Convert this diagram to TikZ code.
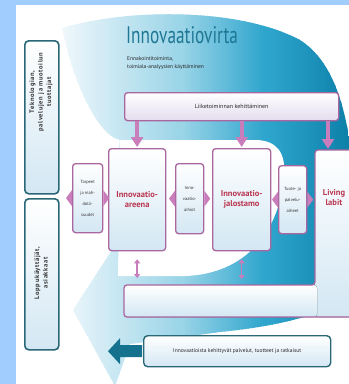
\documentclass[tikz,border=0pt]{standalone}
\usepackage{fontspec}
\setmainfont{PT Sans}
\usetikzlibrary{arrows.meta}
\definecolor{pagebg}{HTML}{A0CDFE}
\definecolor{flowA}{HTML}{EEF7FB}
\definecolor{flowB}{HTML}{9CD5E8}
\definecolor{flowC}{HTML}{2EA5CD}
\definecolor{flowD}{HTML}{0B7EA6}
\definecolor{mauve}{HTML}{A9669F}
\definecolor{pinkarrow}{HTML}{C97DBA}
\definecolor{boxblue}{HTML}{D3E7F3}
\definecolor{lilac}{HTML}{E3DCEE}
\definecolor{tealline}{HTML}{2A6878}
\definecolor{titleteal}{HTML}{1E7794}
\definecolor{crimson}{HTML}{B9354F}
\definecolor{darkarrow}{HTML}{15728F}
\tikzset{
  stage/.style={draw=mauve, line width=1.3pt, rounded corners=3pt, top color=white, bottom color=boxblue,
                inner sep=0pt, anchor=north west, align=center, text=crimson,
                font=\fontsize{8.5}{10}\selectfont\bfseries},
  smallbox/.style={stage, text=black!80, font=\fontsize{4.5}{11}\selectfont},
  sidebox/.style={draw=tealline, line width=1.6pt, rounded corners=4pt, top color=white, bottom color=boxblue,
                  inner sep=0pt, anchor=north west},
  sidetext/.style={rotate=90, align=center, text=black!80,
                   font=\fontsize{6.5}{8.5}\selectfont\bfseries\addfontfeature{LetterSpace=10}},
  smalltext/.style={align=left, text=black!85, inner sep=0pt, font=\fontsize{5.5}{8}\selectfont},
  downarrow/.style={pinkarrow, line width=4pt, -{Triangle[width=12pt,length=10pt]}, shorten >=1pt},
  swaparrow/.style={pinkarrow, line width=1.6pt, {Triangle[width=6pt,length=4pt]}-{Triangle[width=6pt,length=4pt]}}
}
% pink tips on both sides of a small box
\newcommand{\sidetips}[1]{%
  \fill[pinkarrow] ([yshift=-8pt]#1.west) -- ++(-6,-8) -- ++(6,-8) -- cycle;
  \fill[pinkarrow] ([yshift=-8pt]#1.east) -- ++( 6,-8) -- ++(-6,-8) -- cycle;}

\begin{document}
\begin{tikzpicture}[x=1pt, y=-1pt]
        \def\Pw{349 } % Picture width
        \def\Ph{384 } % Picture height
        \def\Px{16  } % Panel left edge
        \def\Py{5   } % Panel top edge

        % Page and white panel
        \useasboundingbox (0,0) rectangle (\Pw,\Ph);
        \fill[pagebg] (0,0)     rectangle (\Pw,\Ph);
        \fill[white]  (\Px,\Py) rectangle (\Pw,\Ph);

        \begin{scope}
        \clip (\Px,\Py) rectangle (\Pw,\Ph);

        % Flow band, outer edge, coloured in strips
        \begin{scope}
        \clip (62,28)   .. controls (130,8)   and (240,8)   .. (300,40)
                        .. controls (328,58)  and (345,95)  .. (352,160)
              -- (352,292) .. controls (330,314) and (280,326) .. (220,332)
              -- (130,344) -- (115,386) -- (73,310) -- (112,250) -- (120,140)
                        .. controls (100,136) and (75,90)   .. (62,28) -- cycle;
        \foreach \k in {0,...,38} {\pgfmathtruncatemacro{\pc}{100*\k/38}
          \fill[flowB!\pc!flowA] (62+3*\k,0)  rectangle ++(3.6,390);}
        \foreach \k in {0,...,28} {\pgfmathtruncatemacro{\pc}{100*\k/28}
          \fill[flowC!\pc!flowB] (179+3*\k,0) rectangle ++(3.6,390);}
        \foreach \k in {0,...,29} {\pgfmathtruncatemacro{\pc}{100*\k/29}
          \fill[flowD!\pc!flowC] (266+3*\k,0) rectangle ++(3.6,390);}
        \end{scope}
        % Flow band, hole under the stages
        \fill[white]
              (120,140) -- (118,276) -- (185,276)
                        .. controls (245,274) and (280,232) .. (284,175)
                        .. controls (286,152) and (276,140) .. (255,140) -- cycle;

        % Side boxes
        \node[sidebox, minimum width=34pt, minimum height=153pt] (makers) at (24,40)  {};
        \node[sidebox, minimum width=34pt, minimum height=151pt] (users)  at (24,198) {};
        \node[sidetext] (makerstext) at (41,92)  {Teknologian,\\palvelujen ja muotoilun\\tuottajat};
        \node[sidetext] (userstext)  at (41,273) {Loppukäyttäjät,\\asiakkaat};

        % Titles
        \node[anchor=north west, inner sep=0pt, text=titleteal] (flowtitle) at (126,26)
              {\scalebox{0.72}[1]{\fontsize{24}{24}\selectfont Innovaatiovirta}};
        \node[smalltext, anchor=north west] (foresight) at (127,56)
              {Ennakointitoiminta,\\toimiala-analyysien käyttäminen};

        % Business box
        \node[stage, bottom color=lilac, text=black!85, font=\fontsize{6}{7}\selectfont,
              minimum width=214pt, minimum height=28pt] (biz) at (124,92) {Liiketoiminnan kehittäminen};

        % Living labs and the bar
        \fill[rounded corners=3pt, top color=white, bottom color=boxblue] (315,150) rectangle (365,317);
        \fill[rounded corners=3pt, top color=white, bottom color=boxblue] (124,285) rectangle (317,317);
        \draw[mauve, line width=1.3pt, rounded corners=3pt]
              (315,285) -- (315,150) -- (365,150) -- (365,317) -- (124,317) -- (124,285) -- cycle;
        \node[align=center, text=crimson, font=\fontsize{8.5}{10}\selectfont\bfseries] (labs) at (334,198) {Living\\labit};
        \coordinate (labtop) at (328,150);
        \coordinate (bartop) at (124,285);

        % Stages
        \node[smallbox, minimum width=30pt, minimum height=69pt] (needs)    at (72,163)  {Tarpeet\\ja mah-\\dolli-\\suudet};
        \node[stage,    minimum width=57pt, minimum height=102pt] (arena)   at (108,148) {Innovaatio-\\areena};
        \node[smallbox, minimum width=28pt, minimum height=70pt] (ideas)    at (175,163) {Inno-\\vaatio-\\aihiot};
        \node[stage,    minimum width=58pt, minimum height=102pt] (refinery) at (212,148) {Innovaatio-\\jalostamo};
        \node[smallbox, minimum width=28pt, minimum height=68pt] (products) at (278,165) {Tuote- ja\\palvelu-\\aiheet};
        \sidetips{needs}
        \sidetips{ideas}
        \sidetips{products}

        % Arrows
        \draw[downarrow] (biz.south -| arena.north)    -- (arena.north);
        \draw[downarrow] (biz.south -| refinery.north) -- (refinery.north);
        \draw[downarrow] (biz.south -| labtop)         -- (labtop);
        \draw[swaparrow, shorten <=8pt, shorten >=7pt] (arena.south)    -- (arena.south |- bartop);
        \draw[swaparrow, shorten <=8pt, shorten >=6pt] (refinery.south) -- (refinery.south |- bartop);

        % Result
        \node[sidebox, minimum width=187pt, minimum height=31pt, line width=1.4pt, text=black!85,
              font=\fontsize{5.5}{7}\selectfont] (result) at (143,335)
              {Innovaatioista kehittyvät palvelut, tuotteet ja ratkaisut};
        \fill[darkarrow] ([xshift=-1pt]result.west) ++(0,6) -- ++(-22,0) -- ++(0,7) -- ++(-12,-13)
              -- ++(12,-13) -- ++(0,7) -- ++(22,0) -- cycle;
        \end{scope}
\end{tikzpicture}
\end{document}
